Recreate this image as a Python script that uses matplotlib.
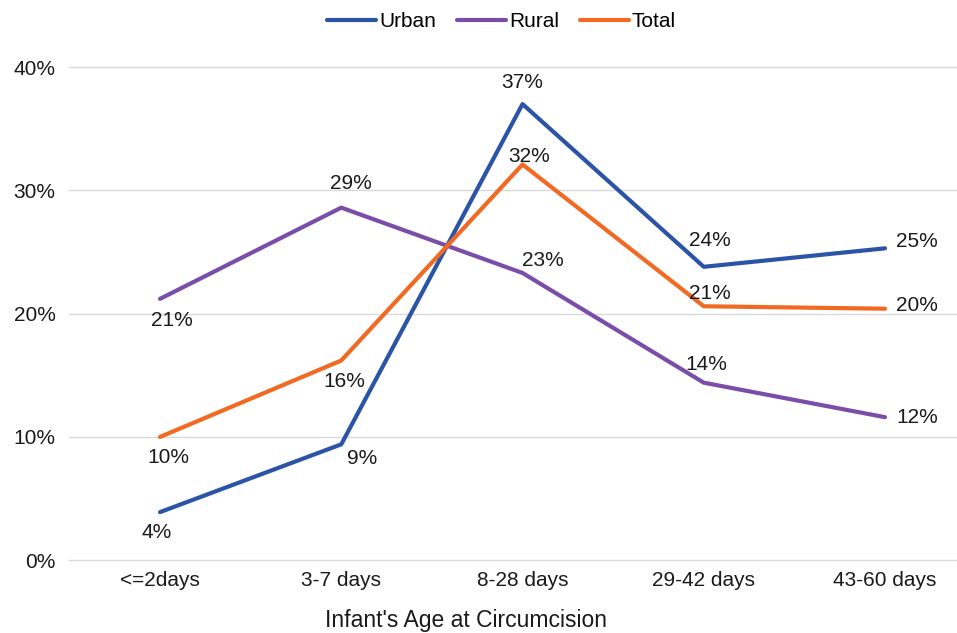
import matplotlib
matplotlib.use("Agg")
import matplotlib.pyplot as plt
from matplotlib.ticker import PercentFormatter

plt.rcParams['font.family'] = ['Liberation Sans', 'DejaVu Sans']

ages = ["<=2days", "3-7 days", "8-28 days", "29-42 days", "43-60 days"]
urban = [3.9, 9.4, 37.0, 23.8, 25.3]
rural = [21.2, 28.6, 23.3, 14.4, 11.6]
total = [10.0, 16.2, 32.1, 20.6, 20.4]

series = [
    ("Urban", urban, "#2B53A6"),
    ("Rural", rural, "#7A4EA8"),
    ("Total", total, "#F26A22"),
]

# label offsets in pixels (dx, dy) per point
offsets = {
    "Urban": [(-3, -20), (21, -14), (0, 22), (6, 26), (32, 7)],
    "Rural": [(12, -22), (10, 24), (20, 12), (3, 18), (32, 0)],
    "Total": [(8, -21), (3, -21), (7, 8), (6, 13), (32, 3)],
}

fig = plt.figure(figsize=(9.57, 6.33), dpi=100)
ax = fig.add_axes([0.0725, 0.115, 0.947, 0.779])

x = list(range(len(ages)))
for name, vals, col in series:
    ax.plot(x, vals, color=col, lw=3, label=name, solid_capstyle='round')
    for i, v in enumerate(vals):
        dx, dy = offsets[name][i]
        ax.annotate(f"{round(v):.0f}%", (i, v), xytext=(dx, dy),
                    textcoords='offset pixels', ha='center', va='center',
                    fontsize=15, color='#1a1a1a')

ax.set_xlim(-0.5, 4.5)
ax.set_ylim(0, 40)
ax.set_yticks([0, 10, 20, 30, 40])
ax.yaxis.set_major_formatter(PercentFormatter(decimals=0))
ax.set_xticks(x)
ax.set_xticklabels(ages)
ax.tick_params(axis='both', length=0, labelsize=15, colors='#1a1a1a')
ax.tick_params(axis='x', pad=8)
ax.tick_params(axis='y', pad=10)
ax.grid(axis='y', color='#d9d9d9', lw=1)
for gl in ax.get_ygridlines():
    gl.set_clip_on(False)
ax.set_axisbelow(True)
for s in ax.spines.values():
    s.set_visible(False)

ax.set_xlabel("Infant's Age at Circumcision", fontsize=16.5, color='#1a1a1a')
ax.xaxis.set_label_coords(0.438, -0.122)
ax.xaxis.label.set_va('center')

fig.legend(loc='center', bbox_to_anchor=(0.524, 0.966), ncol=3, frameon=False,
           fontsize=15, handlelength=2.35, handletextpad=0.15, columnspacing=1.0)

fig.savefig("out.png", dpi=100)
